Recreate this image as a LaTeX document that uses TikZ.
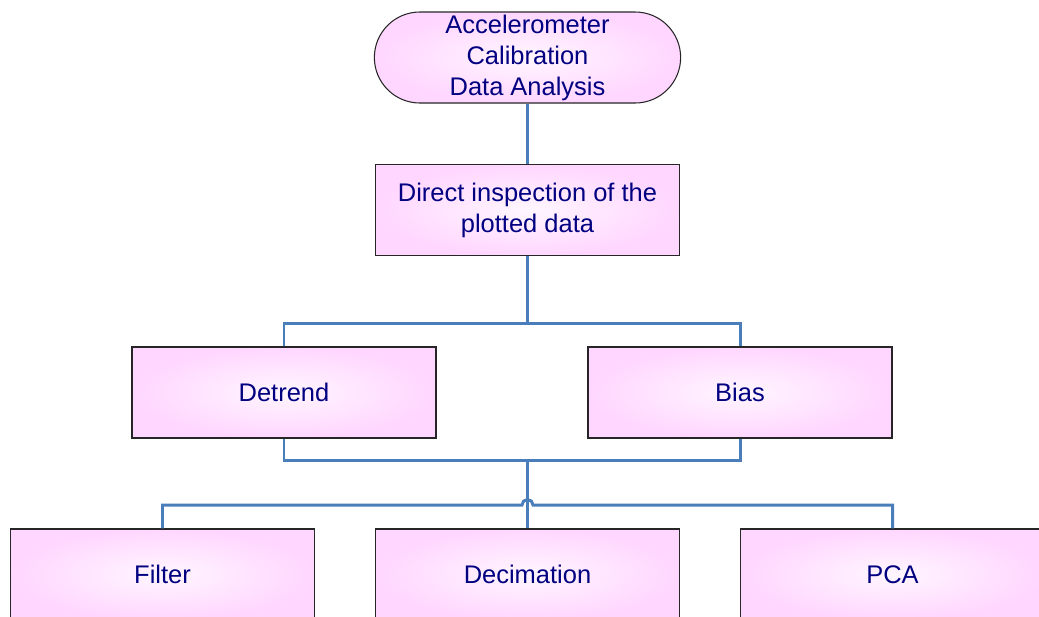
\documentclass[tikz,border=0pt]{standalone}
\usepackage{fontspec}
\setmainfont{Liberation Sans}
\usepackage{tikz}
\usetikzlibrary{positioning,shapes.misc}

\definecolor{navytext}{RGB}{0,0,128}
\definecolor{linkblue}{RGB}{74,126,187}
\definecolor{pinkout}{RGB}{255,214,255}
\definecolor{pinkin}{RGB}{255,246,255}

\begin{document}
\begin{tikzpicture}[
    font=\fontsize{14.5}{17.6}\selectfont,
    box/.style={rectangle, draw=black!85, line width=0.6pt, minimum width=6.08cm, minimum height=1.82cm,
                align=center, text=navytext, shading=radial, inner color=pinkin, outer color=pinkout},
    startbox/.style={box, rounded rectangle, inner ysep=0pt, minimum width=6.36cm},
    link/.style={draw=linkblue, line width=1.7pt}
]
\useasboundingbox (0,0) rectangle (20.78,-12.32);
\clip (0,0) rectangle (20.78,-12.32);

% ---- Start ----
\node[startbox] (start) at (10.55,-1.15) {Accelerometer\\Calibration\\Data Analysis};

% ---- Inspection ----
\node[box] (inspect) at (10.55,-4.2) {Direct inspection of the\\plotted data};
\draw[link] (start.south) -- (inspect.north);

% ---- Detrend / Bias ----
\node[box] (detrend) at (5.68,-7.85) {Detrend};
\node[box] (bias) at (14.8,-7.85) {Bias};
\coordinate (split) at (10.55,-6.46);
\draw[link] (inspect.south) -- (split);
\draw[link] (detrend.north) |- (split) -| (bias.north);

% ---- Merge ----
\coordinate (merge) at (10.55,-9.2);
\draw[link] (detrend.south) |- (merge) -| (bias.south);

% ---- Filter / Decimation / PCA ----
\node[box] (filter) at (3.25,-11.49) {Filter};
\node[box] (decim) at (10.55,-11.49) {Decimation};
\node[box] (pca) at (17.85,-11.49) {PCA};
\draw[link] (merge) -- (decim.north);
\coordinate (hop) at (10.55,-10.1);
\draw[link] (filter.north) |- ([xshift=-1.1mm]hop) arc[start angle=180, end angle=0, radius=1.1mm]
    -- ([xshift=1.1mm]hop) -| (pca.north);

\end{tikzpicture}
\end{document}
